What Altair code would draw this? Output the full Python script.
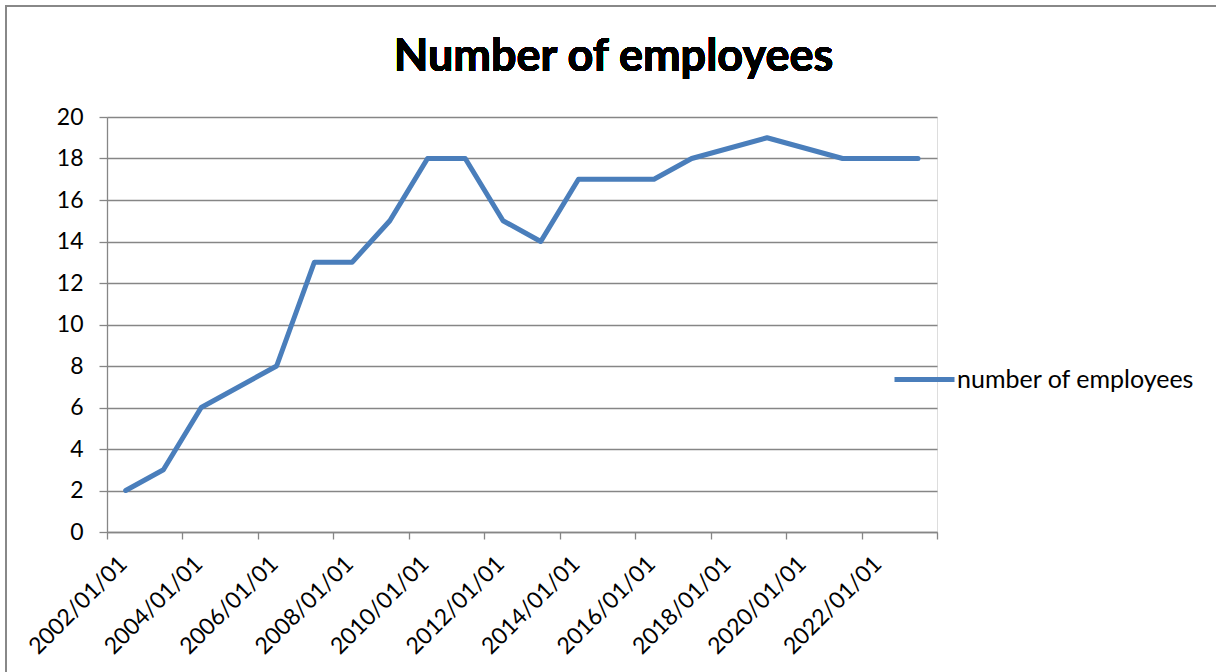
import altair as alt
import pandas as pd

# Data
dates = ["2002-07-01", "2003-07-01", "2004-07-01", "2006-07-01", "2007-07-01",
         "2008-07-01", "2009-07-01", "2010-07-01", "2011-07-01", "2012-07-01",
         "2013-07-01", "2014-07-01", "2016-07-01", "2017-07-01", "2019-07-01",
         "2021-07-01", "2023-07-01"]
employees = [2, 3, 6, 8, 13, 13, 15, 18, 18, 15, 14, 17, 17, 18, 19, 18, 18]
series_name = "number of employees"
chart_title = "Number of employees"
tick_years = list(range(2002, 2025, 2))
y_ticks = list(range(0, 21, 2))

df = pd.DataFrame({"date": dates, "value": employees, "series": [series_name] * len(dates)})

FONT = "Lato"
GRID = "#868686"
BLUE = "#4a7ebb"

tick_values = [alt.DateTime(year=y, month=1, date=1, utc=True) for y in tick_years]

line = alt.Chart(df).mark_line(
    strokeWidth=5, strokeCap="round", strokeJoin="round"
).encode(
    x=alt.X(
        "date:T",
        scale=alt.Scale(type="utc",
                        domain=[alt.DateTime(year=2002, month=1, date=1, utc=True),
                                alt.DateTime(year=2024, month=1, date=1, utc=True)]),
        axis=alt.Axis(
            title=None, values=tick_values, grid=False,
            labelExpr="utcyear(datum.value) >= 2024 ? '' : utcFormat(datum.value, '%Y/%m/%d')",
            labelAngle=-45, labelAlign="right", labelBaseline="middle",
            labelOffset=16, labelPadding=21,
            labelFont=FONT, labelFontSize=23, labelColor="#000000",
            tickSize=7, tickColor=GRID, tickWidth=1.3,
            domainColor=GRID, domainWidth=1.3, labelOverlap=False,
        ),
    ),
    y=alt.Y(
        "value:Q",
        scale=alt.Scale(domain=[0, 20], nice=False),
        axis=alt.Axis(
            title=None, values=y_ticks, grid=True, gridColor=GRID, gridWidth=1.3,
            labelFont=FONT, labelFontSize=23, labelColor="#000000", labelPadding=16,
            tickSize=8, tickColor=GRID, tickWidth=1.3,
            domainColor=GRID, domainWidth=1.3,
        ),
    ),
    color=alt.Color(
        "series:N",
        scale=alt.Scale(range=[BLUE]),
        legend=alt.Legend(
            title=None, orient="none", legendX=785, legendY=230,
            symbolType="stroke", symbolSize=3600, symbolStrokeWidth=5,
            labelFont=FONT, labelFontSize=25, labelColor="#000000",
            labelOffset=0, labelLimit=0, padding=0,
        ),
    ),
)

title = alt.Chart(df).mark_text(
    text=chart_title, font=FONT, fontSize=45, fontWeight="bold", color="#000000",
    align="center", baseline="alphabetic", clip=False,
).encode(x=alt.value(506.5), y=alt.value(-46))

border = alt.Chart(df).mark_rule(color="#888888", strokeWidth=2, clip=False).encode(
    x=alt.value(-101), x2=alt.value(1109), y=alt.value(-111)
) + alt.Chart(df).mark_rule(color="#888888", strokeWidth=2, clip=False).encode(
    x=alt.value(-101), y=alt.value(-112), y2=alt.value(556)
)

chart = alt.layer(border, line, title).properties(
    width=830, height=415,
    autosize=alt.AutoSizeParams(type="none"),
    padding={"left": 107, "top": 117, "right": 279, "bottom": 140},
).configure_view(stroke=None).configure(background="white")

chart.save("out.html", embed_options={"renderer": "svg", "actions": False})
